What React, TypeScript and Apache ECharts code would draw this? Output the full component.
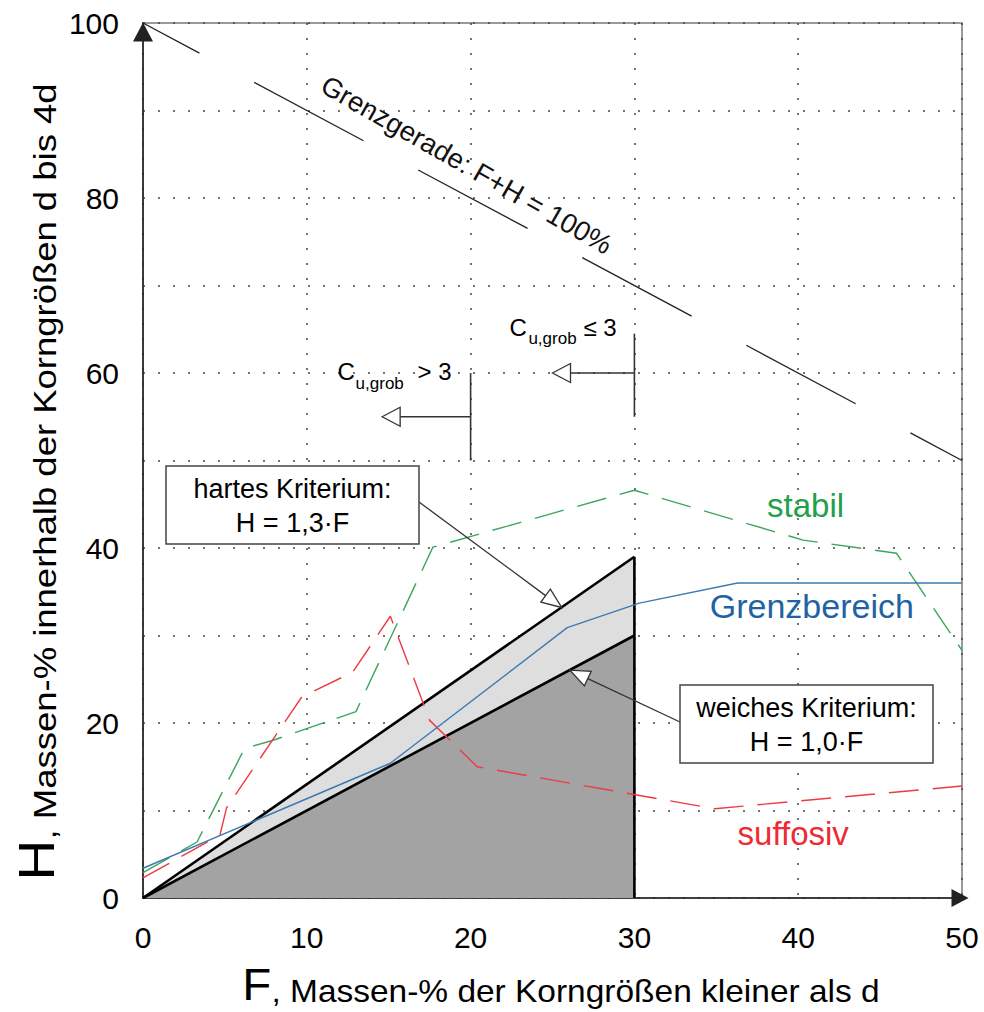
import React, { useEffect, useRef } from 'react';
import * as echarts from 'echarts';

// ---------- data ----------
const grenzgerade = [[0, 100], [50, 50]];
const hartesKriterium = [[0, 0], [30, 39]];
const weichesKriterium = [[0, 0], [30, 30]];
const kriteriumGrenze = [[30, 0], [30, 39]];

const stabilF = [0, 3.3, 6.2, 7.9, 13.0, 17.7, 30.0, 40.3, 46.0, 50];
const stabilH = [2.9, 6.4, 17.1, 18.0, 21.3, 40.1, 46.6, 40.9, 39.4, 28.3];

const suffosivF = [0, 4.7, 5.1, 9.7, 12.8, 15.1, 17.5, 20.4, 34.9, 50];
const suffosivH = [2.3, 7.2, 10.3, 23.0, 25.8, 32.2, 20.3, 15.0, 10.2, 12.8];

const grenzF = [0, 15.1, 25.9, 30.3, 36.3, 50];
const grenzH = [3.4, 15.4, 30.9, 33.7, 36.0, 36.0];

const xMin = 0, xMax = 50, xStep = 10;
const yMin = 0, yMax = 100, yStep = 10, yLabelStep = 20;

// annotation anchors (data units)
const cuLeq3 = { x: 30, yTop: 64.5, yBottom: 55, arrowY: 60, tipX: 25 };
const cuGt3 = { x: 20, yTop: 60, yBottom: 50, arrowY: 55, tipX: 14.6 };
const hartTip = [25.56, 33.2];
const weichTip = [26.05, 26.05];

const FONT = '"Liberation Sans", Arial, Helvetica, sans-serif';

const zip = (a: number[], b: number[]) => a.map((v, i) => [v, b[i]]);

export default function App() {
  const ref = useRef<HTMLDivElement>(null);

  useEffect(() => {
    const chart = echarts.init(ref.current!, null, { renderer: 'svg' });

    const dotted = { color: '#444', width: 1.5, type: [2, 13] as any };

    chart.setOption({
      animation: false,
      backgroundColor: '#fff',
      grid: {
        left: 143, right: 22, top: 23, bottom: 114,
        show: true, borderColor: '#7a7a7a', borderWidth: 1.5, backgroundColor: 'transparent',
      },
      xAxis: {
        type: 'value', min: xMin, max: xMax, interval: xStep,
        axisLine: {
          show: true, onZero: false,
          lineStyle: { color: '#222', width: 1.6 },
          symbol: ['none', 'triangle'], symbolSize: [18, 17], symbolOffset: [0, -2],
        },
        axisTick: { show: false },
        splitLine: { show: true, lineStyle: dotted },
        axisLabel: { fontSize: 30, color: '#000', margin: 24, fontFamily: FONT },
      },
      yAxis: {
        type: 'value', min: yMin, max: yMax, interval: yStep,
        axisLine: {
          show: true, onZero: false,
          lineStyle: { color: '#222', width: 1.6 },
          symbol: ['none', 'triangle'], symbolSize: [20, 19], symbolOffset: [0, -9],
        },
        axisTick: { show: false },
        splitLine: { show: true, lineStyle: dotted },
        axisLabel: {
          fontSize: 30, color: '#000', margin: 24, fontFamily: FONT,
          formatter: (v: number) => (v % yLabelStep === 0 ? String(v) : ''),
        },
      },
      series: [
        {
          type: 'line', data: hartesKriterium, symbol: 'none', z: 2,
          lineStyle: { color: '#000', width: 2.6 },
          areaStyle: { color: '#dedede', opacity: 1 },
        },
        {
          type: 'line', data: weichesKriterium, symbol: 'none', z: 3,
          lineStyle: { color: '#000', width: 2.6 },
          areaStyle: { color: '#a3a3a3', opacity: 1 },
        },
        {
          type: 'line', data: kriteriumGrenze, symbol: 'none', z: 4,
          lineStyle: { color: '#000', width: 2.6 },
        },
        {
          type: 'line', data: grenzgerade, symbol: 'none', z: 5,
          lineStyle: { color: '#222', width: 1.3, type: [124, 62], dashOffset: 60 },
        },
        {
          type: 'line', data: zip(stabilF, stabilH), symbol: 'none', z: 6,
          lineStyle: { color: '#3aa65c', width: 1.4, type: [30, 14] },
        },
        {
          type: 'line', data: zip(suffosivF, suffosivH), symbol: 'none', z: 6,
          lineStyle: { color: '#ee3a44', width: 1.4, type: [30, 14] },
        },
        {
          type: 'line', data: zip(grenzF, grenzH), symbol: 'none', z: 7,
          lineStyle: { color: '#3d7ab2', width: 1.4 },
        },
      ],
    });

    const P = (x: number, y: number) => chart.convertToPixel({ gridIndex: 0 }, [x, y]) as number[];
    const G: any[] = [];
    const stroke = '#333';

    const openArrow = (tail: number[], tip: number[], len: number, half: number, lw = 1.3) => {
      const dx = tip[0] - tail[0], dy = tip[1] - tail[1];
      const d = Math.hypot(dx, dy);
      const ux = dx / d, uy = dy / d;
      const bx = tip[0] - ux * len, by = tip[1] - uy * len;
      const nx = -uy, ny = ux;
      G.push({ type: 'line', z: 100, shape: { x1: tail[0], y1: tail[1], x2: bx, y2: by }, style: { stroke, lineWidth: lw } });
      G.push({
        type: 'polygon', z: 101,
        shape: { points: [tip, [bx + nx * half, by + ny * half], [bx - nx * half, by - ny * half]] },
        style: { fill: '#fff', stroke, lineWidth: 1.3 },
      });
    };

    const txt = (x: number, y: number, text: string, size: number, color = '#000') => {
      G.push({
        type: 'text', z: 110, x, y,
        style: { text, fontSize: size, fill: color, fontFamily: FONT, align: 'left', verticalAlign: 'middle' },
      });
    };

    // Cu,grob markers
    const cuBlock = (c: typeof cuLeq3, rel: string, off: { c: number[]; s: number[]; r: number[] }) => {
      const top = P(c.x, c.yTop), bot = P(c.x, c.yBottom);
      G.push({ type: 'line', z: 100, shape: { x1: top[0], y1: top[1], x2: bot[0], y2: bot[1] }, style: { stroke, lineWidth: 1.6 } });
      openArrow(P(c.x, c.arrowY), P(c.tipX, c.arrowY), 18, 9.5, 1.6);
      txt(top[0] + off.c[0], top[1] + off.c[1], 'C', 24);
      txt(top[0] + off.s[0], top[1] + off.s[1], 'u,grob', 17);
      txt(top[0] + off.r[0], top[1] + off.r[1], rel, 24);
    };
    cuBlock(cuLeq3, '≤ 3', { c: [-125, -6.5], s: [-106, 5], r: [-51, -6.5] });
    cuBlock(cuGt3, '> 3', { c: [-133, -2], s: [-115, 10], r: [-53, -2] });

    // Boxes
    const box1 = { x: 166, y: 466, w: 253, h: 78 };
    const box2 = { x: 680, y: 685, w: 253, h: 78 };
    openArrow([box1.x + box1.w, 502], P(hartTip[0], hartTip[1]), 20, 8);
    openArrow([box2.x, 722], P(weichTip[0], weichTip[1]), 20, 8);
    for (const [b, t] of [[box1, 'hartes Kriterium:\nH = 1,3·F'], [box2, 'weiches Kriterium:\nH = 1,0·F']] as any[]) {
      G.push({
        type: 'rect', z: 102, shape: { x: b.x, y: b.y, width: b.w, height: b.h },
        style: { fill: '#fff', stroke: '#444', lineWidth: 1.5 },
      });
      G.push({
        type: 'text', z: 110, x: b.x + b.w / 2, y: b.y + b.h / 2 + 1,
        style: { text: t, fontSize: 27, lineHeight: 34, fill: '#000', fontFamily: FONT, align: 'center', verticalAlign: 'middle' },
      });
    }

    // Region labels
    const s = P(38.1, 44.9);
    txt(s[0], s[1], 'stabil', 33, '#22a04a');
    const g = P(34.6, 33.4);
    txt(g[0], g[1], 'Grenzbereich', 34, '#1f63a3');
    const u = P(36.3, 7.4);
    txt(u[0], u[1], 'suffosiv', 33, '#ee2a35');

    // Grenzgerade label
    const gg = P(19.76, 83.8);
    G.push({
      type: 'text', z: 110, x: gg[0], y: gg[1], rotation: -0.52,
      style: { text: 'Grenzgerade: F+H = 100%', fontSize: 27.5, fill: '#111', fontFamily: FONT, align: 'center', verticalAlign: 'middle' },
    });

    // Axis titles
    G.push({
      type: 'text', z: 110, x: 36, y: 482, rotation: Math.PI / 2, scaleX: 1.14,
      style: {
        text: '{a|H}{b|, Massen-% innerhalb der Korngrößen d bis 4d}',
        fontFamily: FONT, align: 'center', verticalAlign: 'middle', fill: '#000',
        rich: {
          a: { fontSize: 50, lineHeight: 50, verticalAlign: 'bottom', fontFamily: FONT, fill: '#000' },
          b: { fontSize: 32, lineHeight: 32, verticalAlign: 'bottom', fontFamily: FONT, fill: '#000' },
        },
      },
    });
    G.push({
      type: 'text', z: 110, x: 561, y: 985, scaleX: 1.08,
      style: {
        text: '{a|F}{b|, Massen-% der Korngrößen kleiner als d}',
        fontFamily: FONT, align: 'center', verticalAlign: 'middle', fill: '#000',
        rich: {
          a: { fontSize: 44, lineHeight: 44, verticalAlign: 'bottom', fontFamily: FONT, fill: '#000' },
          b: { fontSize: 31, lineHeight: 31, verticalAlign: 'bottom', fontFamily: FONT, fill: '#000' },
        },
      },
    });

    chart.setOption({ graphic: { elements: G } });

    return () => chart.dispose();
  }, []);

  return <div ref={ref} style={{ position: 'fixed', left: 0, top: 0, width: 984, height: 1012 }} />;
}
